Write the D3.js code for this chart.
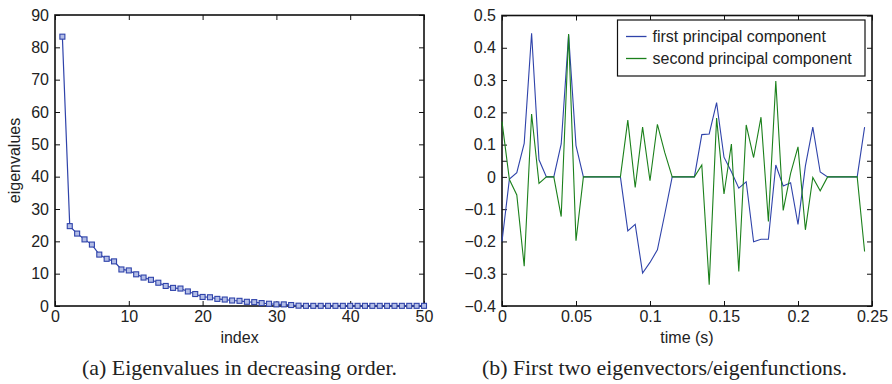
<!DOCTYPE html>
<html><head><meta charset="utf-8">
<script src="https://cdn.jsdelivr.net/npm/d3@7"></script>
<style>
body{margin:0;background:#fff;}
svg{display:block;}
.tick text{font-family:"Liberation Sans",Arial,sans-serif;font-size:16px;fill:#222;}
</style></head>
<body><svg id="c" width="892" height="384"></svg>
<script>
// ---------- data ----------
const eigIndex = d3.range(1, 51);
const eigenvalues = [83.3,24.7,22.4,20.6,19.0,15.9,14.6,13.8,11.3,11.0,
  9.8,8.8,8.1,7.2,6.2,5.6,5.4,4.5,3.7,2.8,
  2.7,2.2,2.0,1.7,1.6,1.3,1.2,0.9,0.7,0.5,
  0.5,0.3,0.1,0.05,0.05,0.05,0.05,0.05,0.05,0.05,
  0.05,0.05,0.05,0.05,0.05,0.05,0.05,0.05,0.05,0.05];
const timeS = d3.range(0, 50).map(i => +(i*0.005).toFixed(3));
const firstPC = [-0.200,-0.007,0.013,0.104,0.445,0.053,0,0,0.102,0.440,
  0.097,0,0,0,0,0,0,-0.167,-0.147,-0.298,
  -0.265,-0.226,-0.115,0,0,0,0,0.131,0.133,0.230,
  0.061,0.016,-0.035,-0.015,-0.201,-0.193,-0.193,0.037,-0.028,-0.018,
  -0.147,0.034,0.154,0.015,0,0,0,0,0,0.154];
const secondPC = [0.171,-0.008,-0.056,-0.277,0.195,-0.020,0,0,-0.123,0.443,
  -0.198,0,0,0,0,0,0,0.176,-0.033,0.154,
  -0.012,0.163,0.075,0,0,0,0,0.037,-0.334,0.182,
  -0.053,0.102,-0.293,0.161,0.060,0.185,-0.138,0.297,-0.104,0.011,
  0.093,-0.164,-0.002,-0.043,0,0,0,0,0,-0.231];
const leftXTicks = [0,10,20,30,40,50];
const leftYTicks = [0,10,20,30,40,50,60,70,80,90];
const rightXTicks = [0,0.05,0.1,0.15,0.2,0.25];
const rightYTicks = [-0.4,-0.3,-0.2,-0.1,0,0.05,0.1,0.2,0.3,0.4,0.5];
const seriesNames = ["first principal component","second principal component"];
const captions = ["(a) Eigenvalues in decreasing order.","(b) First two eigenvectors/eigenfunctions."];

const BLUE = "#2f43aa", GREEN = "#1b801b";
const SANS = "Liberation Sans,Arial,sans-serif";
const svg = d3.select("#c");
const TS = 5;

function frame(g, x, y, xt, yt, xfmt, yfmt, yLabeled){
  const [x0,x1] = x.range(), [y0,y1] = y.range();
  const ax = (axis, tr) => {
    const a = g.append("g").attr("transform", tr).call(axis);
    a.select(".domain").remove();
    a.selectAll(".tick line").attr("stroke","#111").attr("stroke-width",1);
    return a;
  };
  ax(d3.axisBottom(x).tickValues(xt).tickSizeInner(-TS).tickSizeOuter(0).tickPadding(5).tickFormat(xfmt), `translate(0,${y0})`);
  ax(d3.axisTop(x).tickValues(xt).tickSizeInner(-TS).tickSizeOuter(0).tickFormat(""), `translate(0,${y1})`);
  ax(d3.axisLeft(y).tickValues(yt).tickSizeInner(-TS).tickSizeOuter(0).tickPadding(6).tickFormat(d => yLabeled(d) ? yfmt(d) : ""), `translate(${x0},0)`);
  ax(d3.axisRight(y).tickValues(yt).tickSizeInner(-TS).tickSizeOuter(0).tickFormat(""), `translate(${x1},0)`);
  g.append("rect").attr("x",x0).attr("y",y1).attr("width",x1-x0).attr("height",y0-y1)
    .attr("fill","none").attr("stroke","#111").attr("stroke-width",1.6);
}

// ---------- left chart ----------
const gl = svg.append("g");
const xL = d3.scaleLinear().domain([0,50]).range([55,424]);
const yL = d3.scaleLinear().domain([0,90]).range([306,15]);
frame(gl, xL, yL, leftXTicks, leftYTicks, d3.format("d"), d3.format("d"), () => true);
gl.append("path").datum(eigenvalues)
  .attr("fill","none").attr("stroke",BLUE).attr("stroke-width",1.2)
  .attr("d", d3.line().x((d,i)=>xL(eigIndex[i])).y(d=>yL(d)));
gl.selectAll("rect.m").data(eigenvalues).join("rect").attr("class","m")
  .attr("x",(d,i)=>xL(eigIndex[i])-2.5).attr("y",d=>yL(d)-2.5)
  .attr("width",5).attr("height",5)
  .attr("fill","#b3bde6").attr("stroke",BLUE).attr("stroke-width",1.1);
gl.append("text").attr("x",(55+424)/2).attr("y",343).attr("text-anchor","middle")
  .style("font-family",SANS).style("font-size","16px").attr("fill","#222").text("index");
gl.append("text").attr("transform",`translate(20,${(15+306)/2}) rotate(-90)`).attr("text-anchor","middle")
  .style("font-family",SANS).style("font-size","16px").attr("fill","#222").text("eigenvalues");
gl.append("text").attr("x",(82+397)/2).attr("y",375).attr("text-anchor","middle")
  .style("font-family","Liberation Serif,Times New Roman,serif").style("font-size","21px").attr("fill","#222")
  .attr("textLength",315).attr("lengthAdjust","spacingAndGlyphs").text(captions[0]);

// ---------- right chart ----------
const gr = svg.append("g");
const xR = d3.scaleLinear().domain([0,0.25]).range([502,872]);
const yR = d3.scaleLinear().domain([-0.4,0.5]).range([306,15.5]);
const fmtR = d => d === 0 ? "0" : (d < 0 ? "\u2212" + Math.abs(d) : String(d));
frame(gr, xR, yR, rightXTicks, rightYTicks, fmtR, fmtR, d => Math.abs(d-0.05) > 1e-9);
const lineR = d3.line().x((d,i)=>xR(timeS[i])).y(d=>yR(d));
gr.append("path").datum(firstPC).attr("fill","none").attr("stroke",BLUE).attr("stroke-width",1.1).attr("d",lineR);
gr.append("path").datum(secondPC).attr("fill","none").attr("stroke",GREEN).attr("stroke-width",1.1).attr("d",lineR);
gr.append("text").attr("x",(502+872)/2).attr("y",343).attr("text-anchor","middle")
  .style("font-family",SANS).style("font-size","16px").attr("fill","#222").text("time (s)");
gr.append("text").attr("x",(482+847)/2).attr("y",375).attr("text-anchor","middle")
  .style("font-family","Liberation Serif,Times New Roman,serif").style("font-size","21px").attr("fill","#222")
  .attr("textLength",365).attr("lengthAdjust","spacingAndGlyphs").text(captions[1]);

// legend
const lg = gr.append("g");
lg.append("rect").attr("x",617.5).attr("y",20).attr("width",247.5).attr("height",56)
  .attr("fill","#fff").attr("stroke","#111").attr("stroke-width",1.2);
[BLUE, GREEN].forEach((c,i) => {
  const yy = 36.5 + i*22;
  lg.append("line").attr("x1",626).attr("x2",646.5).attr("y1",yy).attr("y2",yy).attr("stroke",c).attr("stroke-width",1.3);
  lg.append("text").attr("x",652.5).attr("y",yy+5.5).style("font-family",SANS)
    .style("font-size","16px").attr("fill","#222").text(seriesNames[i]);
});
</script></body></html>
